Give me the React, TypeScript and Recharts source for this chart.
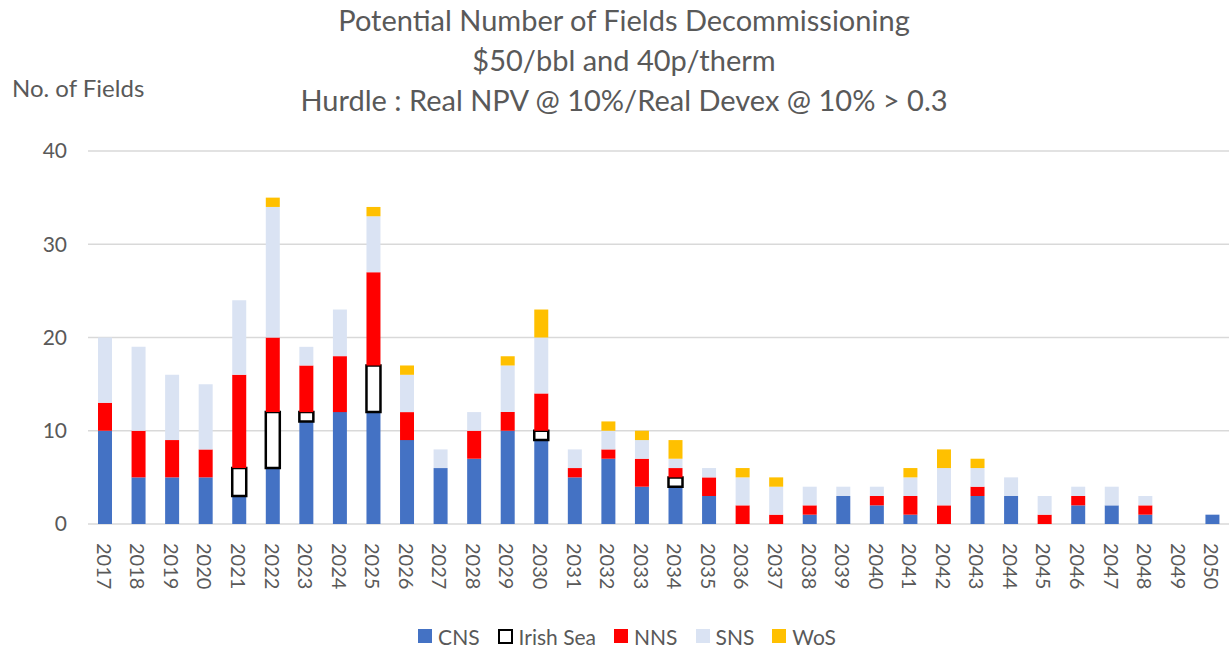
import React from "react";
import { BarChart, Bar, XAxis, YAxis, CartesianGrid, Legend } from "recharts";

// Years on the category axis
const years = [
  "2017", "2018", "2019", "2020", "2021", "2022", "2023", "2024", "2025", "2026",
  "2027", "2028", "2029", "2030", "2031", "2032", "2033", "2034", "2035", "2036",
  "2037", "2038", "2039", "2040", "2041", "2042", "2043", "2044", "2045", "2046",
  "2047", "2048", "2049", "2050",
];

// Number of fields decommissioning per basin, per year
const cns = [10, 5, 5, 5, 3, 6, 11, 12, 12, 9, 6, 7, 10, 9, 5, 7, 4, 4, 3, 0, 0, 1, 3, 2, 1, 0, 3, 3, 0, 2, 2, 1, 0, 1];
const irishSea = [0, 0, 0, 0, 3, 6, 1, 0, 5, 0, 0, 0, 0, 1, 0, 0, 0, 1, 0, 0, 0, 0, 0, 0, 0, 0, 0, 0, 0, 0, 0, 0, 0, 0];
const nns = [3, 5, 4, 3, 10, 8, 5, 6, 10, 3, 0, 3, 2, 4, 1, 1, 3, 1, 2, 2, 1, 1, 0, 1, 2, 2, 1, 0, 1, 1, 0, 1, 0, 0];
const sns = [7, 9, 7, 7, 8, 14, 2, 5, 6, 4, 2, 2, 5, 6, 2, 2, 2, 1, 1, 3, 3, 2, 1, 1, 2, 4, 2, 2, 2, 1, 2, 1, 0, 0];
const wos = [0, 0, 0, 0, 0, 1, 0, 0, 1, 1, 0, 0, 1, 3, 0, 1, 1, 2, 0, 1, 1, 0, 0, 0, 1, 2, 1, 0, 0, 0, 0, 0, 0, 0];

const yTicks = [0, 10, 20, 30, 40];

const titleLines = [
  "Potential Number of Fields Decommissioning",
  "$50/bbl and 40p/therm",
  "Hurdle : Real NPV @ 10%/Real Devex @ 10% > 0.3",
];

const series = [
  { key: "CNS", fill: "#4472C4", stroke: "none" },
  { key: "Irish Sea", fill: "#FFFFFF", stroke: "#000000" },
  { key: "NNS", fill: "#FF0000", stroke: "none" },
  { key: "SNS", fill: "#DAE3F3", stroke: "none" },
  { key: "WoS", fill: "#FFC000", stroke: "none" },
];

const data = years.map((year, i) => ({
  year,
  CNS: cns[i],
  "Irish Sea": irishSea[i],
  NNS: nns[i],
  SNS: sns[i],
  WoS: wos[i],
}));

const FONT = "Lato, 'Open Sans', sans-serif";
const TEXT = "#595959";

const YearTick = (props: any) => {
  const { x, y, payload } = props;
  return (
    <text
      x={0}
      y={0}
      transform={`translate(${x},${y}) rotate(90)`}
      textAnchor="start"
      dominantBaseline="central"
      fill={TEXT}
      fontSize={20}
      fontFamily={FONT}
    >
      {payload.value}
    </text>
  );
};

const LegendContent = () => (
  <div
    style={{
      display: "flex",
      justifyContent: "center",
      alignItems: "center",
      height: 24,
      paddingLeft: 25,
      fontFamily: FONT,
      fontSize: 21,
      color: TEXT,
    }}
  >
    {series.map((s) => (
      <div key={s.key} style={{ display: "flex", alignItems: "center", margin: "0 9px" }}>
        <span
          style={{
            display: "inline-block",
            width: s.stroke === "none" ? 14 : 11,
            height: s.stroke === "none" ? 14 : 11,
            background: s.fill,
            border: s.stroke === "none" ? "none" : `2.5px solid ${s.stroke}`,
            marginRight: 6,
          }}
        />
        <span>{s.key}</span>
      </div>
    ))}
  </div>
);

export default function App() {
  return (
    <div style={{ position: "absolute", left: 0, top: 0, width: 1229, height: 648, background: "#fff" }}>
      <div
        style={{
          position: "absolute",
          left: 0,
          top: 0,
          width: 1248,
          textAlign: "center",
          fontFamily: FONT,
          fontSize: 29,
          lineHeight: "40px",
          color: TEXT,
          zIndex: 2,
        }}
      >
        {titleLines.map((t) => (
          <div key={t}>{t}</div>
        ))}
      </div>
      <div
        style={{
          position: "absolute",
          left: 12,
          top: 74,
          fontFamily: FONT,
          fontSize: 24,
          lineHeight: "28px",
          color: TEXT,
          zIndex: 2,
        }}
      >
        No. of Fields
      </div>
      <BarChart
        width={1229}
        height={648}
        data={data}
        margin={{ top: 151, right: 0, bottom: 40, left: 0 }}
        barSize={14}
        style={{ fontFamily: FONT }}
      >
        <CartesianGrid vertical={false} stroke="#D9D9D9" strokeWidth={1.5} />
        <XAxis
          dataKey="year"
          interval={0}
          axisLine={false}
          tickLine={false}
          tickSize={0}
          tickMargin={19}
          height={60}
          tick={<YearTick />}
        />
        <YAxis
          domain={[0, 40]}
          ticks={yTicks}
          width={88}
          axisLine={false}
          tickLine={false}
          tickSize={0}
          tickMargin={21}
          tick={{ fill: TEXT, fontSize: 21, fontFamily: FONT }}
        />
        <Legend
          verticalAlign="bottom"
          content={<LegendContent />}
          wrapperStyle={{ bottom: 0, left: 0, width: 1229, height: 24 }}
        />
        {series.map((s) => (
          <Bar
            key={s.key}
            dataKey={s.key}
            stackId="fields"
            fill={s.fill}
            stroke={s.stroke}
            strokeWidth={s.stroke === "none" ? 0 : 2.5}
            isAnimationActive={false}
          />
        ))}
      </BarChart>
    </div>
  );
}
